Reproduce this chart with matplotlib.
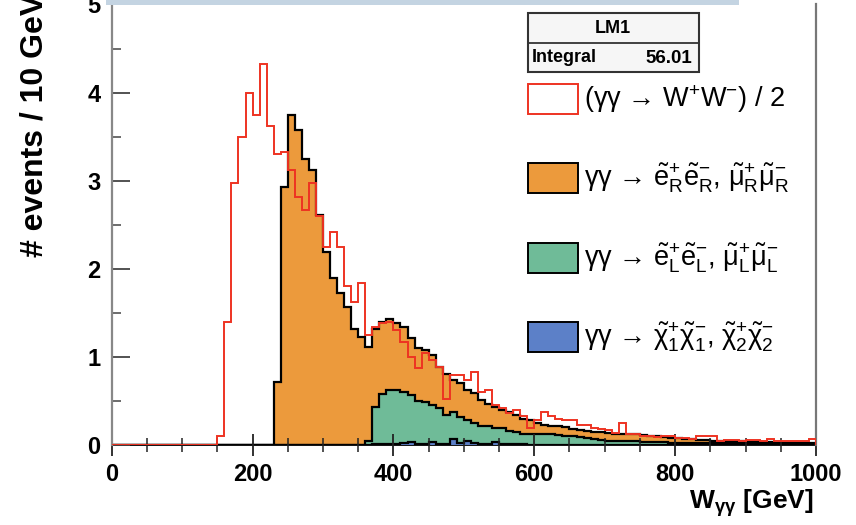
import numpy as np
import matplotlib
matplotlib.use('Agg')
import matplotlib.pyplot as plt
from matplotlib.patches import Rectangle
from matplotlib.ticker import MultipleLocator

plt.rcParams['font.family'] = ['Liberation Sans', 'DejaVu Sans']
plt.rcParams['mathtext.fontset'] = 'custom'
plt.rcParams['mathtext.rm'] = 'Liberation Sans'
plt.rcParams['mathtext.it'] = 'Liberation Sans:italic'
plt.rcParams['mathtext.bf'] = 'Liberation Sans:bold'
plt.rcParams['mathtext.default'] = 'regular'

# ---------------------------------------------------------------- data
# W_gg histograms, 10 GeV bins from 0 to 1000 GeV
bin_width = 10
x_min, x_max = 0, 1000

# (gg -> W+W-)/2, first bin starts at 150 GeV
ww_start = 150
ww_vals = [0.10, 1.40, 2.97, 3.50, 3.99, 3.75, 4.32, 3.62, 3.30, 3.33,
           3.12, 2.82, 2.67, 2.97, 2.60, 2.25, 2.42, 2.25, 1.81, 1.62,
           1.84, 1.25, 1.34, 1.38, 1.40, 1.31, 1.17, 1.00, 0.87, 1.04,
           0.96, 0.89, 0.52, 0.79, 0.79, 0.74, 0.83, 0.60, 0.62, 0.45,
           0.42, 0.36, 0.40, 0.33, 0.19, 0.28, 0.38, 0.33, 0.30, 0.28,
           0.28, 0.23, 0.23, 0.19, 0.18, 0.17, 0.14, 0.25, 0.13, 0.13,
           0.10, 0.10, 0.09, 0.10, 0.10, 0.08, 0.08, 0.07, 0.10, 0.10,
           0.10, 0.05, 0.06, 0.06, 0.05, 0.06, 0.06, 0.05, 0.07, 0.05,
           0.04, 0.04, 0.04, 0.04, 0.07]

# stacked selectron/smuon R (stack top), from 230 GeV
eR_start = 230
eR_vals = [0.72, 2.93, 3.75, 3.57, 3.25, 3.12, 2.61, 2.19, 1.89, 1.72,
           1.57, 1.32, 1.23, 1.11, 1.32, 1.40, 1.43, 1.39, 1.34, 1.21,
           1.10, 1.08, 1.02, 0.89, 0.81, 0.74, 0.70, 0.62, 0.59, 0.51,
           0.47, 0.43, 0.40, 0.38, 0.34, 0.30, 0.28, 0.25, 0.23, 0.22,
           0.21, 0.20, 0.18, 0.17, 0.16, 0.15, 0.15, 0.14, 0.13, 0.13,
           0.12, 0.12, 0.11, 0.10, 0.10, 0.09, 0.08, 0.08, 0.07, 0.07,
           0.06, 0.06, 0.05, 0.05, 0.04, 0.04, 0.04, 0.03, 0.03, 0.03,
           0.03, 0.02, 0.02, 0.02, 0.02, 0.02, 0.02]

# stacked selectron/smuon L, from 360 GeV
eL_start = 360
eL_vals = [0.04, 0.43, 0.58, 0.62, 0.62, 0.60, 0.57, 0.50, 0.49, 0.45,
           0.42, 0.34, 0.38, 0.32, 0.28, 0.25, 0.22, 0.21, 0.19, 0.19,
           0.16, 0.15, 0.13, 0.13, 0.13, 0.12, 0.12, 0.11, 0.10, 0.10,
           0.09, 0.08, 0.07, 0.06, 0.05, 0.05, 0.04, 0.04, 0.04, 0.03,
           0.03, 0.03, 0.03, 0.02, 0.02, 0.02, 0.02, 0.02, 0.02, 0.02,
           0.02, 0.02, 0.02, 0.02, 0.01, 0.01, 0.01, 0.01, 0.01, 0.01,
           0.01, 0.01, 0.01, 0.01]

# charginos, from 370 GeV
chi_start = 370
chi_vals = [0.015, 0.015, 0.015, 0.015, 0.02, 0.035, 0.015, 0.015, 0.035, 0.015,
            0.015, 0.065, 0.02, 0.05, 0.02, 0.015, 0.015, 0.035, 0.015, 0.01,
            0.01, 0.01, 0.005, 0.005]

labels = ['(γγ → W$^{+}$W$^{-}$) / 2',
          r'γγ → $\tilde{e}^{+}_{R}\tilde{e}^{-}_{R}$, $\tilde{\mu}^{+}_{R}\tilde{\mu}^{-}_{R}$',
          r'γγ → $\tilde{e}^{+}_{L}\tilde{e}^{-}_{L}$, $\tilde{\mu}^{+}_{L}\tilde{\mu}^{-}_{L}$',
          r'γγ → $\tilde{\chi}^{+}_{1}\tilde{\chi}^{-}_{1}$, $\tilde{\chi}^{+}_{2}\tilde{\chi}^{-}_{2}$']
sample_name = 'LM1'
integral = 56.01

c_ww = '#ee3322'
c_eR = '#ec9a3c'
c_eL = '#6fbb98'
c_chi = '#5c80c8'

# ---------------------------------------------------------------- helpers
W, H = 856, 525

def fx(x):
    return x / W

def fy(y):
    return 1 - y / H

def full_hist(start, vals):
    edges = np.arange(x_min, x_max + bin_width, bin_width)
    h = np.zeros(len(edges) - 1)
    i0 = (start - x_min) // bin_width
    h[i0:i0 + len(vals)] = vals
    return h, edges

# ---------------------------------------------------------------- figure
fig = plt.figure(figsize=(W / 100, H / 100), dpi=100)
ax = fig.add_axes([fx(111.7), fy(445), fx(816) - fx(111.7), fy(4.5) - fy(445)])

for start, vals, col in [(eR_start, eR_vals, c_eR),
                         (eL_start, eL_vals, c_eL),
                         (chi_start, chi_vals, c_chi)]:
    h, e = full_hist(start, vals)
    ax.stairs(h, e, fill=True, color=col, lw=0)
    ax.stairs(h, e, color='black', lw=1.6)

h, e = full_hist(ww_start, ww_vals)
ax.stairs(h, e, color=c_ww, lw=1.4, zorder=5)

ax.set_xlim(x_min, x_max)
ax.set_ylim(0, 5)
ax.set_xticks(np.arange(0, 1001, 200))
ax.xaxis.set_minor_locator(MultipleLocator(50))
ax.set_yticks(np.arange(0, 6, 1))
ax.yaxis.set_minor_locator(MultipleLocator(0.5))

ax.tick_params(axis='x', which='major', direction='inout', length=16, width=1.3,
               pad=5, labelsize=17, color='#222222')
ax.tick_params(axis='x', which='minor', direction='inout', length=10, width=1.1,
               color='#222222')
ax.tick_params(axis='y', which='major', direction='in', length=13, width=1.3,
               pad=8, labelsize=17, color='#444444')
ax.tick_params(axis='y', which='minor', direction='in', length=6.5, width=1.1,
               color='#444444')
for lab in ax.get_xticklabels() + ax.get_yticklabels():
    lab.set_fontweight('bold')

ax.spines['top'].set_visible(False)
ax.spines['left'].set_color('#888888')
ax.spines['left'].set_linewidth(1.6)
ax.spines['right'].set_color('#777777')
ax.spines['right'].set_linewidth(1.6)
ax.spines['bottom'].set_color('black')
ax.spines['bottom'].set_linewidth(1.3)
ax.spines['bottom'].set_zorder(0.5)

# axis titles
fig.text(fx(35), fy(-6), '# events / 10 GeV', rotation=90, ha='center', va='top',
         fontsize=23, fontweight='bold')
fig.text(fx(814), fy(503), r'W$_{\gamma\gamma}$ [GeV]', ha='right', va='center',
         fontsize=19, fontweight='bold')

# stats box
fig.patches.append(Rectangle((fx(528), fy(72)), fx(699) - fx(528), fy(13) - fy(72),
                             transform=fig.transFigure, facecolor='#f6f6f6',
                             edgecolor='#333333', lw=1.5))
fig.lines.append(plt.Line2D([fx(528), fx(699)], [fy(43), fy(43)],
                            transform=fig.transFigure, color='#333333', lw=1.3))
fig.text(fx(613), fy(28.5), sample_name, ha='center', va='center', fontsize=13,
         fontweight='bold')
fig.text(fx(532), fy(57.5), 'Integral', ha='left', va='center', fontsize=13,
         fontweight='bold')
fig.text(fx(692), fy(58.5), f'{integral:.2f}', ha='right', va='center', fontsize=13.5,
         fontweight='bold')

# legend
box_y = [99, 178, 258, 337]
face = ['white', c_eR, c_eL, c_chi]
edge = [c_ww, 'black', 'black', 'black']
for yc, fc, ec, lab in zip(box_y, face, edge, labels):
    fig.patches.append(Rectangle((fx(528), fy(yc + 15)), fx(578) - fx(528),
                                 fy(yc - 15) - fy(yc + 15), transform=fig.transFigure,
                                 facecolor=fc, edgecolor=ec, lw=1.4))
    fig.text(fx(584), fy(yc), lab, ha='left', va='center', fontsize=19.5)

# strip along the top edge
fig.patches.append(Rectangle((fx(106), fy(5)), fx(739) - fx(106), fy(0) - fy(5),
                             transform=fig.transFigure, facecolor='#c4d4e2',
                             edgecolor='none'))

fig.savefig('out.png', dpi=100)
